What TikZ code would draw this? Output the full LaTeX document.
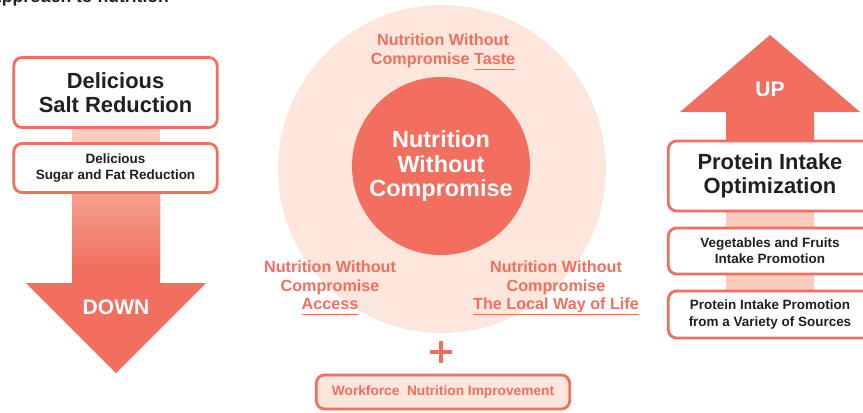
\documentclass[tikz,border=0pt]{standalone}
\usepackage{fontspec}
\setmainfont{Liberation Sans}
\usetikzlibrary{positioning, shapes.geometric}
\definecolor{coral}{HTML}{F26E5F}
\definecolor{ink}{HTML}{231F20}
\definecolor{halo}{HTML}{FDE6DC}
\definecolor{shaftpink}{HTML}{FBCBBD}
\definecolor{fadetop}{HTML}{F5A38F}
\newcommand\undl[1]{\setbox0\hbox{#1}\rlap{\rule[-4.6pt]{\wd0}{1.1pt}}\box0}

\begin{document}
\begin{tikzpicture}[x=0.03cm, y=-0.03cm,
  bigbox/.style={draw=coral, line width=2.4pt, rounded corners=7pt, fill=white, text=ink,
    align=center, minimum width=6.1cm, font=\bfseries\fontsize{18.7}{20.5}\selectfont},
  smallbox/.style={bigbox, font=\bfseries\fontsize{11.5}{13.7}\selectfont},
  pillar/.style={align=center, text=coral, font=\bfseries\fontsize{13.8}{15.8}\selectfont},
  arrowtext/.style={text=white, font=\bfseries\fontsize{18}{20}\selectfont}]
\useasboundingbox (0,0) rectangle (863,412);
\node[anchor=base east, text=ink, font=\bfseries\fontsize{15}{18}\selectfont] (heading) at (173,2) {Approach to nutrition};

\begin{scope}
\fill[shaftpink] (72,120) rectangle (160,150);
\fill[coral] (72,190) -- (160,190) -- (160,283) -- (206,283) -- (116,373) -- (26,283) -- (72,283) -- cycle;
\shade[top color=fadetop, bottom color=coral] (72,190) rectangle (160,268);
\node[bigbox, minimum height=2.1cm] (salt) at (115.5,92.5) {Delicious\\Salt Reduction};
\node[smallbox, minimum height=1.47cm] (sugar) at (115.5,168) {Delicious\\Sugar and Fat Reduction};
\node[arrowtext] (down) at (116,307) {DOWN};
\end{scope}

\begin{scope}
\fill[halo] (442,169) circle (164);
\node[circle, fill=coral, minimum size=5.34cm, inner sep=0, align=center, text=white,
  font=\bfseries\fontsize{20}{20.9}\selectfont] (core) at (441,166) {Nutrition\\Without\\Compromise};
\node[pillar] (taste) at (443,52) {Nutrition Without\\Compromise \undl{Taste}};
\node[pillar] (access) at (330,288) {Nutrition Without\\Compromise\\\undl{Access}};
\node[pillar] (local) at (556,288) {Nutrition Without\\Compromise\\\undl{The Local Way of Life}};
\draw[coral, line width=3pt] (430,352) -- (452,352) (441,341) -- (441,363);
\node[draw=coral, line width=2.4pt, rounded corners=7pt, fill=halo, text=coral,
  minimum width=7.6cm, minimum height=1.02cm,
  font=\bfseries\fontsize{11.7}{13.7}\selectfont] (workforce) at (443,392) {Workforce\ \ Nutrition Improvement};
\end{scope}

\begin{scope}
\fill[coral] (726,145) -- (726,112) -- (680,112) -- (770,35) -- (860,112) -- (814,112) -- (814,145) -- cycle;
\fill[shaftpink] (726,205) rectangle (814,295);
\node[arrowtext] (up) at (770,89) {UP};
\node[bigbox, minimum height=2.1cm] (protein) at (770,176) {Protein Intake\\Optimization};
\node[smallbox, minimum height=1.38cm] (veg) at (770,251) {Vegetables and Fruits\\Intake Promotion};
\node[smallbox, minimum height=1.41cm] (sources) at (770,314.5) {Protein Intake Promotion\\from a Variety of Sources};
\end{scope}
\end{tikzpicture}
\end{document}
